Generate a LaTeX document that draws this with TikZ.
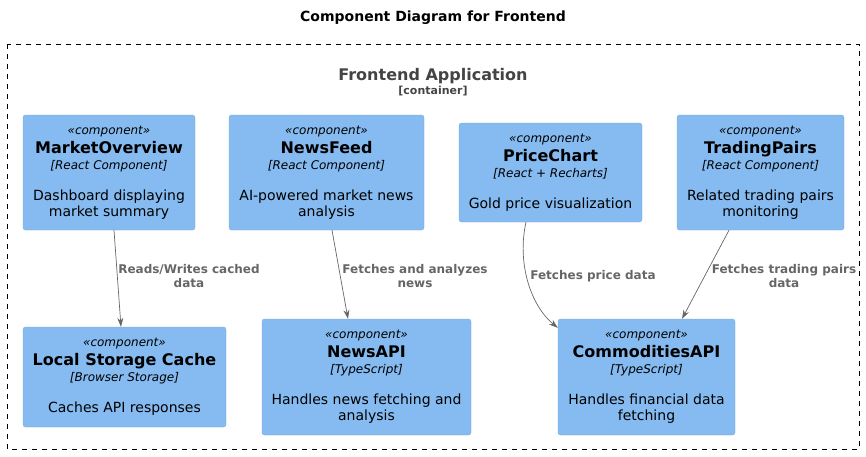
\documentclass[tikz,border=0pt]{standalone}
\usepackage{fontspec}
\setmainfont{DejaVu Sans}
\usetikzlibrary{arrows.meta}
\definecolor{compblue}{HTML}{85BBF0}
\definecolor{relgray}{HTML}{666666}
\definecolor{bndgray}{HTML}{444444}
\tikzset{
  compbox/.style={rectangle,rounded corners=2.5pt,fill=compblue,draw=compblue!90!black,line width=0.3pt,align=center,inner sep=0pt,font=\fontsize{14}{16}\selectfont},
  rel/.style={draw=relgray,line width=0.7pt,-{Stealth[length=9pt,width=6pt]}},
  rellabel/.style={text=relgray,align=center,font=\bfseries\fontsize{12}{14}\selectfont}
}
% stereotype, name, technology; the description follows in the node font
\newcommand{\compbody}[2]{\fontsize{12}{16}\selectfont\itshape «component»\\[3pt]
  \fontsize{16}{17}\selectfont\upshape\bfseries #1\\
  \fontsize{12}{16}\selectfont\mdseries\itshape [#2]\\[15pt]}
\begin{document}
\begin{tikzpicture}[x=1pt,y=-1pt]
    \useasboundingbox (0,0) rectangle (866,456);
    \node[font=\bfseries\fontsize{14}{16}\selectfont] (title) at (433,18) {Component Diagram for Frontend};
    \draw[dash pattern=on 5pt off 5pt,line width=0.7pt] (7,44) rectangle (859,449);
    \node[text=bndgray,font=\bfseries\fontsize{16}{18}\selectfont] (frontend) at (433,76) {Frontend Application};
    \node[text=bndgray,font=\bfseries\fontsize{11}{13}\selectfont] (container) at (433,91.5) {[container]};

    \node[compbox,minimum width=172pt,minimum height=115pt] (mo) at (109,172.5) {\compbody{MarketOverview}{React Component}Dashboard displaying\\market summary};
    \node[compbox,minimum width=195pt,minimum height=115pt] (nf) at (326.5,172.5) {\compbody{NewsFeed}{React Component}AI-powered market news\\analysis};
    \node[compbox,minimum width=183pt,minimum height=99pt] (pc) at (550.5,172.5) {\compbody{PriceChart}{React + Recharts}Gold price visualization};
    \node[compbox,minimum width=167pt,minimum height=115pt] (tp) at (760.5,172.5) {\compbody{TradingPairs}{React Component}Related trading pairs\\monitoring};
    \node[compbox,minimum width=203pt,minimum height=100pt] (lsc) at (124.5,377) {\compbody{Local Storage Cache}{Browser Storage}Caches API responses};
    \node[compbox,minimum width=209pt,minimum height=116pt] (napi) at (366.5,377) {\compbody{NewsAPI}{TypeScript}Handles news fetching and\\analysis};
    \node[compbox,minimum width=177pt,minimum height=116pt] (capi) at (646.5,377) {\compbody{CommoditiesAPI}{TypeScript}Handles financial data\\fetching};

    \draw[rel] ([xshift=5pt]mo.south) -- ([xshift=-3.5pt]lsc.north);
    \draw[rel] ([xshift=5.5pt]nf.south) -- ([xshift=-18.5pt]napi.north);
    \draw[rel] ([xshift=-24.5pt]pc.south) .. controls (517,262) and (530,305) .. ([yshift=-9pt]capi.north west);
    \draw[rel] ([xshift=-31.5pt]tp.south) -- ([xshift=35.5pt]capi.north);

    \node[rellabel] (l_cache) at (189,276) {Reads/Writes cached\\data};
    \node[rellabel] (l_news) at (415,276) {Fetches and analyzes\\news};
    \node[rellabel] (l_price) at (593,276) {Fetches price data};
    \node[rellabel] (l_pairs) at (784,276) {Fetches trading pairs\\data};
\end{tikzpicture}
\end{document}
